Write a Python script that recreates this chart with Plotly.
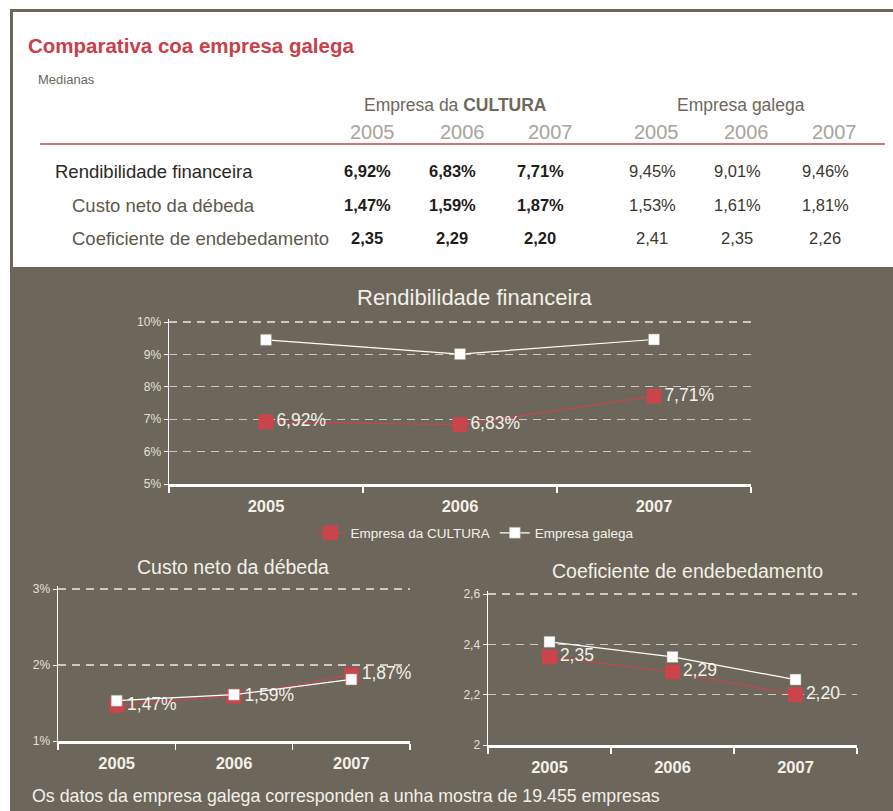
import plotly.graph_objects as go

# ---------------- data ----------------
years = ["2005", "2006", "2007"]
row_labels = ["Rendibilidade financeira", "Custo neto da débeda", "Coeficiente de endebedamento"]

cultura_rend = [6.92, 6.83, 7.71]
cultura_custo = [1.47, 1.59, 1.87]
cultura_coef = [2.35, 2.29, 2.20]

galega_rend = [9.45, 9.01, 9.46]
galega_custo = [1.53, 1.61, 1.81]
galega_coef = [2.41, 2.35, 2.26]

series_names = ["Empresa da CULTURA", "Empresa galega"]
footnote = "Os datos da empresa galega corresponden a unha mostra de 19.455 empresas"

# ---------------- style ----------------
W, H = 893, 811
BG = "#6c675a"
RED = "#c9454b"
TXT = "#f3f0e9"
GRID = "#cdc9be"
FONT = "Liberation Sans, Arial, sans-serif"


def px(x):
    return x / W


def py(y):
    return 1 - y / H


def fmt(v, pct=True):
    s = f"{v:.2f}".replace(".", ",")
    return s + ("%" if pct else "")


fig = go.Figure()

charts = [
    (cultura_rend, galega_rend, True, "", True),
    (cultura_custo, galega_custo, True, "2", False),
    (cultura_coef, galega_coef, False, "3", False),
]

for cv, gv, pct, ax, showleg in charts:
    fig.add_trace(go.Scatter(
        x=years, y=cv, name=series_names[0], mode="lines+markers+text",
        text=[fmt(v, pct) for v in cv], textposition="middle right",
        textfont=dict(size=17.5, color=TXT, family=FONT),
        line=dict(color=RED, width=1.2),
        marker=dict(symbol="square", size=15, color=RED),
        xaxis="x" + ax, yaxis="y" + ax, showlegend=showleg, cliponaxis=False,
    ))
    fig.add_trace(go.Scatter(
        x=years, y=gv, name=series_names[1], mode="lines+markers",
        line=dict(color="white", width=1.2),
        marker=dict(symbol="square", size=11, color="white",
                    line=dict(color="#9a968c", width=0.5)),
        xaxis="x" + ax, yaxis="y" + ax, showlegend=showleg, cliponaxis=False,
    ))

xcommon = dict(type="category", categoryorder="array", categoryarray=years,
               range=[-0.5, 2.5], tickson="boundaries", ticks="outside",
               ticklen=6, tickcolor="white", tickwidth=1.5, showline=True,
               linecolor="white", linewidth=2.5, showgrid=False, zeroline=False,
               ticklabelstandoff=6, automargin=False,
               tickfont=dict(size=16.5, color=TXT, family=FONT, weight="bold"),
               fixedrange=True)
ycommon = dict(showline=True, linecolor="white", linewidth=1.5, ticks="outside",
               ticklen=4, tickcolor="white", showgrid=True, gridcolor=GRID,
               gridwidth=1.2, griddash="8px,6px", zeroline=False, automargin=False,
               tickfont=dict(size=12, color="#e4e0d8", family=FONT),
               fixedrange=True)


def ydom(top_px, bot_px, lo, hi, extra=3):
    """domain/range so that lo sits at bot_px and hi at top_px, with a few px headroom"""
    per = (bot_px - top_px) / (hi - lo)
    return [py(bot_px), py(top_px - extra)], [lo, hi + extra / per]


d1, r1 = ydom(322, 484, 5, 10)
d2, r2 = ydom(589, 741, 1, 3)
d3, r3 = ydom(594, 745, 2, 2.6)

fig.update_layout(
    xaxis=dict(xcommon, domain=[px(169), px(751)], anchor="y"),
    yaxis=dict(ycommon, domain=d1, range=r1, tick0=5, dtick=1,
               ticksuffix="%", anchor="x"),
    xaxis2=dict(xcommon, domain=[px(58), px(410)], anchor="y2"),
    yaxis2=dict(ycommon, domain=d2, range=r2, tick0=1, dtick=1,
                ticksuffix="%", anchor="x2"),
    xaxis3=dict(xcommon, domain=[px(488), px(857)], anchor="y3"),
    yaxis3=dict(ycommon, domain=d3, range=r3, tick0=2, dtick=0.2,
                anchor="x3"),
)

shapes = [
    dict(type="rect", xref="paper", yref="paper", x0=px(10), x1=1.01,
         y0=-0.01, y1=py(267), fillcolor=BG, line=dict(width=0), layer="below"),
    dict(type="line", xref="paper", yref="paper", x0=px(10), x1=1.01,
         y0=py(10.5), y1=py(10.5), line=dict(color=BG, width=3), layer="below"),
    dict(type="line", xref="paper", yref="paper", x0=px(11.5), x1=px(11.5),
         y0=py(9), y1=py(268), line=dict(color=BG, width=3), layer="below"),
    dict(type="line", xref="paper", yref="paper", x0=px(40), x1=px(885),
         y0=py(144), y1=py(144), line=dict(color=RED, width=1.5), layer="below"),
]

ann = []


def add_text(x, y, text, size, color, xanchor="left", bold=False):
    ann.append(dict(x=px(x), y=py(y), xref="paper", yref="paper", text=text,
                    showarrow=False, xanchor=xanchor, yanchor="middle",
                    font=dict(size=size, color=color, family=FONT,
                              weight="bold" if bold else "normal")))


# table header
add_text(26, 46, "Comparativa coa empresa galega", 20.5, "#c9404a", bold=True)
add_text(36, 80, "Medianas", 13, "#6d685c")
add_text(456, 105, "Empresa da <b>CULTURA</b>", 17.5, "#6d685c", "center")
add_text(741, 105, series_names[1], 17.5, "#6d685c", "center")

cult_cols = [372, 462, 550]
gal_cols = [656, 746, 834]
for i, yv in enumerate(years):
    add_text(cult_cols[i], 132, yv, 20, "#a8a49a", "center")
    add_text(gal_cols[i], 132, yv, 20, "#a8a49a", "center")

row_y = [171, 205, 238]
row_x = [53, 70, 70]
row_col = ["#2b2823", "#5e594c", "#5e594c"]
cult_rows = [cultura_rend, cultura_custo, cultura_coef]
gal_rows = [galega_rend, galega_custo, galega_coef]
pcts = [True, True, False]
val_cult_x = [367, 452, 540]
val_gal_x = [652, 737, 825]
for r in range(3):
    add_text(row_x[r], row_y[r], row_labels[r], 18.5, row_col[r])
    for i in range(3):
        add_text(val_cult_x[i], row_y[r], fmt(cult_rows[r][i], pcts[r]), 16.5, "#1f1d19", "center", bold=True)
        add_text(val_gal_x[i], row_y[r], fmt(gal_rows[r][i], pcts[r]), 16.5, "#3a372f", "center")

# chart titles
add_text(475, 297, row_labels[0], 22, TXT, "center")
add_text(233, 567, row_labels[1], 19.5, TXT, "center")
add_text(687, 571, row_labels[2], 19.5, TXT, "center")

# footnote
add_text(30, 796, footnote, 17.8, TXT)

fig.update_layout(
    width=W, height=H, autosize=False,
    margin=dict(l=0, r=0, t=0, b=0, pad=0, autoexpand=False),
    paper_bgcolor="white", plot_bgcolor="rgba(0,0,0,0)",
    separators=",.",
    font=dict(family=FONT),
    shapes=shapes, annotations=ann,
    legend=dict(orientation="h", x=px(475), y=py(533), xanchor="center",
                yanchor="middle", bgcolor="rgba(0,0,0,0)",
                font=dict(size=13.5, color=TXT, family=FONT)),
)

fig.write_html(
    "out.html",
    config={"displayModeBar": False, "staticPlot": True},
    post_script=(
        "document.body.style.margin='0';"
        "var d=document.getElementById('{plot_id}');"
        "d.style.position='fixed';d.style.top='0';d.style.left='0';"
    ),
)
